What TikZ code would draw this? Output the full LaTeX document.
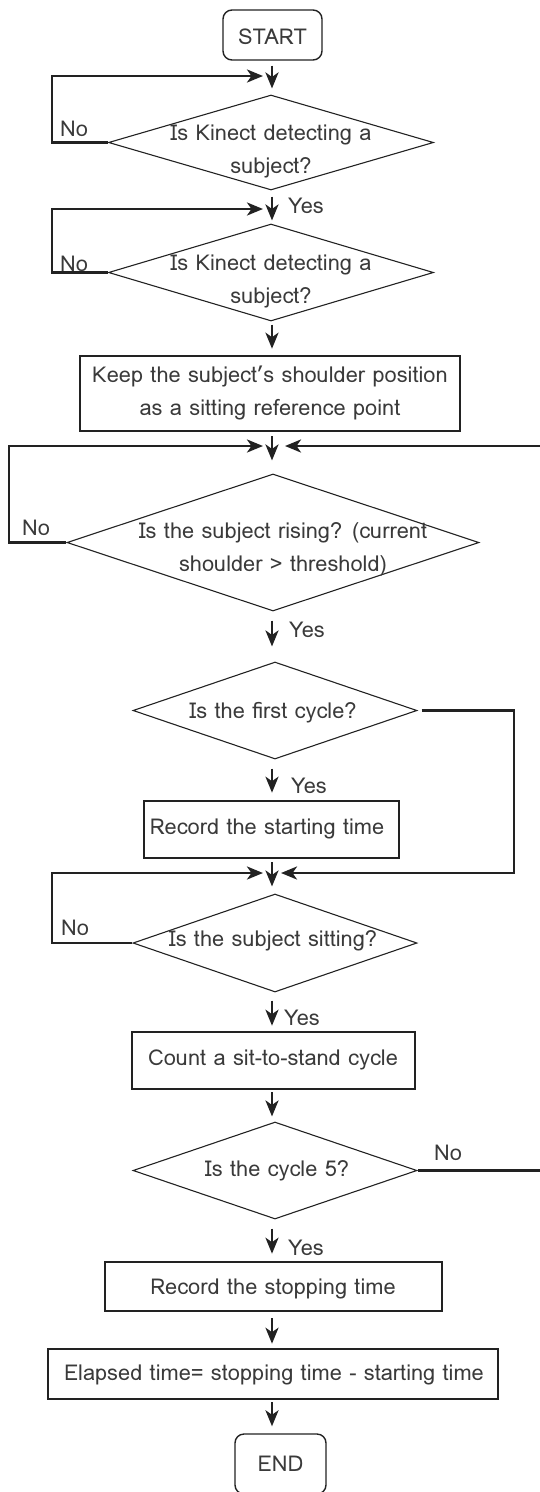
\documentclass[tikz,border=0pt]{standalone}
\usepackage{fontspec}
\setmainfont{Loma}
\usetikzlibrary{shapes.geometric,arrows.meta}
\definecolor{lc}{HTML}{222222}
\definecolor{tc}{HTML}{3A3A3A}
\begin{document}
\begin{tikzpicture}[x=1pt,y=1pt,
  conn/.style={draw=lc,line width=2.7pt},
  arr/.style={conn,-{Stealth[length=16pt,width=13pt,inset=4.5pt]}},
  dec/.style={diamond,draw=lc,line width=1.1pt,inner sep=0pt,aspect=1},
  proc/.style={rectangle,draw=lc,line width=2.6pt,inner sep=0pt},
  term/.style={rectangle,rounded corners=9pt,draw=lc,line width=1.4pt,inner sep=0pt},
  txt/.style={text=tc,font=\fontsize{21.8}{33}\selectfont,align=center,inner sep=0pt,text height=15.5pt,text depth=0pt},
  txttwo/.style={text=tc,font=\fontsize{21.8}{33}\selectfont,align=center,inner sep=0pt},
  lbl/.style={text=tc,font=\fontsize{21.8}{22}\selectfont,inner sep=0pt,anchor=west,text height=15.5pt,text depth=0pt}]
\useasboundingbox (0,0) rectangle (540,-1492);
% axis
\coordinate (ax) at (272,0);
% shapes
\node[term,minimum width=99pt,minimum height=50pt] (start) at (272.5,-35) {};
\node[txt] (tstart) at (272.5,-37) {START};
\node[dec,minimum width=325pt,minimum height=95pt] (d1) at (271,-142.5) {};
\node[txttwo] (td1) at (271,-151.5) {Is Kinect detecting a\\subject?};
\node[dec,minimum width=325pt,minimum height=97pt] (d2) at (271,-272.5) {};
\node[txttwo] (td2) at (271,-281.5) {Is Kinect detecting a\\subject?};
\node[proc,minimum width=380pt,minimum height=75pt] (b1) at (270,-393.5) {};
\node[txttwo] (tb1) at (270,-392.5) {Keep the subject’s shoulder position\\as a sitting reference point};
\node[dec,minimum width=412pt,minimum height=137pt] (d3) at (273,-542.5) {};
\node[txttwo] (td3) at (283,-549.5) {Is the subject rising? (current\\shoulder > threshold)};
\node[dec,minimum width=284pt,minimum height=97pt] (d4) at (275,-710.5) {};
\node[txt] (td4) at (273,-711) {Is the first cycle?};
\node[proc,minimum width=255pt,minimum height=57pt] (b2) at (271.5,-829.5) {};
\node[txt] (tb2) at (267,-827) {Record the starting time};
\node[dec,minimum width=284pt,minimum height=98pt] (d5) at (275,-943) {};
\node[txt] (td5) at (273,-939) {Is the subject sitting?};
\node[proc,minimum width=283pt,minimum height=57pt] (b3) at (273.5,-1060.5) {};
\node[txt] (tb3) at (273,-1058) {Count a sit-to-stand cycle};
\node[dec,minimum width=284pt,minimum height=97pt] (d6) at (275,-1170.5) {};
\node[txt] (td6) at (277,-1169) {Is the cycle 5?};
\node[proc,minimum width=337pt,minimum height=49pt] (b4) at (273.5,-1286.5) {};
\node[txt] (tb4) at (273,-1287) {Record the stopping time};
\node[proc,minimum width=450pt,minimum height=50pt] (b5) at (273,-1374) {};
\node[txt] (tb5) at (274,-1373) {Elapsed time= stopping time - starting time};
\node[term,minimum width=91pt,minimum height=60pt] (end) at (280.5,-1464) {};
\node[txt] (tend) at (280.5,-1464) {END};
% merge points and loop corners
\coordinate (m1) at (272,-76);
\coordinate (m2) at (272,-209);
\coordinate (m3) at (272,-446);
\coordinate (m4) at (272,-873);
\coordinate (lxa) at (52,0);
\coordinate (lxb) at (9,0);
\coordinate (rxa) at (514,0);
\coordinate (rxb) at (550,0);
% main arrows
\draw[arr,shorten <=5pt,shorten >=6pt] (start.south -| ax) -- (d1.north -| ax);
\draw[arr,shorten <=6pt,shorten >=3pt] (d1.south -| ax) -- (d2.north -| ax);
\draw[arr,shorten <=3pt,shorten >=6pt] (d2.south -| ax) -- (b1.north -| ax);
\draw[arr,shorten <=4pt,shorten >=13pt] (b1.south -| ax) -- (d3.north -| ax);
\draw[arr,shorten <=9pt,shorten >=15pt] (d3.south -| ax) -- (d4.north -| ax);
\draw[arr,shorten <=9pt,shorten >=7pt] (d4.south -| ax) -- (b2.north -| ax);
\draw[arr,shorten <=3pt,shorten >=7pt] (b2.south -| ax) -- (d5.north -| ax);
\draw[arr,shorten <=8pt,shorten >=5pt] (d5.south -| ax) -- (b3.north -| ax);
\draw[arr,shorten <=2pt,shorten >=5pt] (b3.south -| ax) -- (d6.north -| ax);
\draw[arr,shorten <=9pt,shorten >=7pt] (d6.south -| ax) -- (b4.north -| ax);
\draw[arr,shorten <=6pt,shorten >=4pt] (b4.south -| ax) -- (b5.north -| ax);
\draw[arr,shorten <=2pt,shorten >=7pt] (b5.south -| ax) -- (end.north -| ax);
% loops
\draw[arr,shorten >=9pt] (d1.west) -- (d1.west -| lxa) |- (m1);
\draw[arr,shorten >=9pt] (d2.west) -- (d2.west -| lxa) |- (m2);
\draw[arr,shorten >=9pt] (d3.west) -- (d3.west -| lxb) |- (m3);
\draw[arr,shorten >=13pt] (d6.east) -- (d6.east -| rxb) |- (m3);
\draw[arr,shorten <=4pt,shorten >=9pt] (d4.east) -- (d4.east -| rxa) |- (m4);
\draw[arr,shorten >=9pt] (d5.west) -- (d5.west -| lxa) |- (m4);
% labels
\node[lbl] (no1) at (60,-129) {No};
\node[lbl] (no2) at (60,-264) {No};
\node[lbl] (no3) at (22,-528) {No};
\node[lbl] (no5) at (61,-928) {No};
\node[lbl] (no6) at (434,-1153) {No};
\node[lbl] (yes1) at (288,-206) {Yes};
\node[lbl] (yes3) at (289,-630) {Yes};
\node[lbl] (yes4) at (291,-786) {Yes};
\node[lbl] (yes5) at (284,-1018) {Yes};
\node[lbl] (yes6) at (288,-1248) {Yes};
\end{tikzpicture}
\end{document}
